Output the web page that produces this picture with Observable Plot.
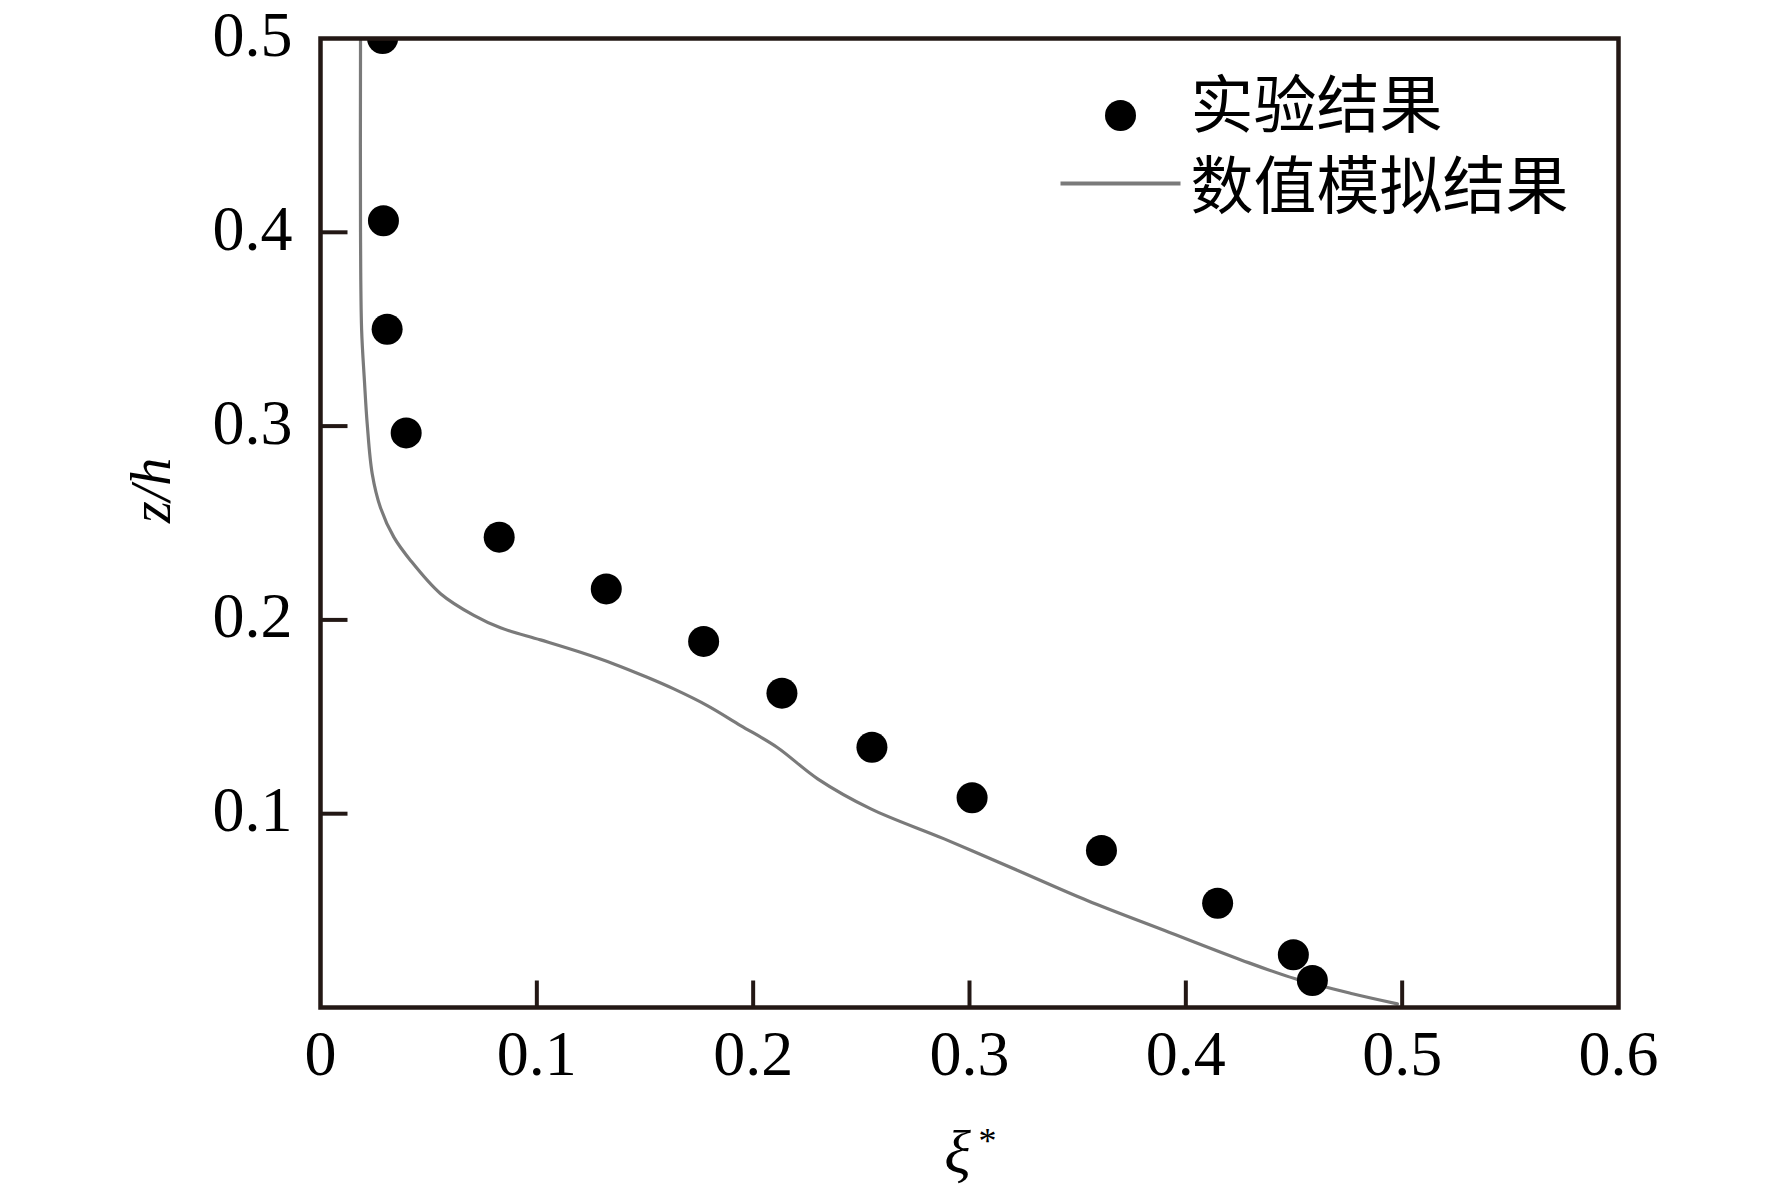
<!DOCTYPE html>
<html>
<head>
<meta charset="utf-8">
<script src="https://cdn.jsdelivr.net/npm/d3@7"></script>
<script src="https://cdn.jsdelivr.net/npm/@observablehq/plot@0.6"></script>
<style>
  html, body { margin: 0; padding: 0; background: #fff; }
  #chart { width: 1772px; height: 1195px; }
</style>
</head>
<body>
<div id="chart"></div>
<script>
// Experimental results (dots)
const expX = [0.0287, 0.0291, 0.0308, 0.0396, 0.0826, 0.1321, 0.1771, 0.2133, 0.2549, 0.3012, 0.3610, 0.4147, 0.4497, 0.4585];
const expY = [0.500, 0.406, 0.350, 0.2965, 0.2427, 0.2160, 0.1889, 0.1622, 0.1343, 0.1082, 0.0810, 0.0538, 0.0272, 0.0139];

// Numerical simulation (line)
const numX = [0.0185, 0.0185, 0.0190, 0.0203, 0.0216, 0.0239, 0.0277, 0.0339, 0.0416, 0.0555, 0.0709, 0.0832, 0.1017, 0.1202, 0.1356, 0.1510, 0.1633, 0.1788, 0.1942, 0.2110, 0.2298, 0.2544, 0.2883, 0.3223, 0.3544, 0.3902, 0.4261, 0.4506, 0.4770, 0.4978];
const numY = [0.500, 0.400, 0.350, 0.3235, 0.301, 0.2754, 0.258, 0.2427, 0.2307, 0.2135, 0.2023, 0.1959, 0.1897, 0.1833, 0.1773, 0.1704, 0.1644, 0.1558, 0.1455, 0.1343, 0.118, 0.1025, 0.087, 0.0707, 0.0552, 0.0397, 0.0243, 0.0148, 0.0071, 0.0019];

// Ticks
const xTickLabels = [0, 0.1, 0.2, 0.3, 0.4, 0.5, 0.6];
const xTickMarks = [0.1, 0.2, 0.3, 0.4, 0.5];
const yTickLabels = [0.1, 0.2, 0.3, 0.4, 0.5];
const yTickMarks = [0.1, 0.2, 0.3, 0.4];

// Text
const legendLabels = ["实验结果", "数值模拟结果"];
const xAxisLabel = "ξ";
const xAxisSup = "*";
const yAxisLabel = "z/h";

const expData = expX.map((x, i) => ({x, y: expY[i]}));
const numData = numX.map((x, i) => ({x, y: numY[i]}));

const frameColor = "#231815";
const lineColor = "#7a7a7a";
const serif = "'Liberation Serif', 'Times New Roman', serif";
const cjk = "'Noto Sans CJK SC', sans-serif";
const fmt = d => String(d);

const tickUp = {draw(ctx) { ctx.moveTo(0, 0); ctx.lineTo(0, -27); }};
const tickRight = {draw(ctx) { ctx.moveTo(0, 0); ctx.lineTo(27, 0); }};
const legendLine = {draw(ctx) { ctx.moveTo(-60, 0); ctx.lineTo(60, 0); }};

const chart = Plot.plot({
  width: 1772,
  height: 1195,
  marginLeft: 320,
  marginRight: 154,
  marginTop: 38,
  marginBottom: 188,
  style: {fontFamily: serif, fontSize: "64px", color: "#000", background: "#fff"},
  x: {domain: [0, 0.6]},
  y: {domain: [0, 0.5]},
  marks: [
    Plot.line(numData, {x: "x", y: "y", stroke: lineColor, strokeWidth: 3.2, curve: "catmull-rom", clip: true}),
    Plot.dot(expData, {x: "x", y: "y", r: 15.5, fill: "#000", clip: true}),
    Plot.dot(xTickMarks, {x: d => d, y: d => 0, symbol: tickUp, fill: "none", stroke: frameColor, strokeWidth: 4}),
    Plot.dot(yTickMarks, {x: d => 0, y: d => d, symbol: tickRight, fill: "none", stroke: frameColor, strokeWidth: 4}),
    Plot.axisX({ticks: xTickLabels, tickFormat: fmt, tickSize: 0, tickPadding: 22, label: null, fontSize: 64, fontFamily: serif}),
    Plot.axisY({ticks: yTickLabels, tickFormat: fmt, tickSize: 0, tickPadding: 28, dy: -3, label: null, fontSize: 64, fontFamily: serif}),
    Plot.frame({stroke: frameColor, strokeWidth: 4.5}),
    // axis titles
    Plot.text([xAxisLabel], {frameAnchor: "bottom", lineAnchor: "bottom", dx: -12, dy: 165, fontSize: 62, fontStyle: "italic", fontFamily: serif}),
    Plot.text([xAxisSup], {frameAnchor: "bottom", lineAnchor: "bottom", dx: 18, dy: 145, fontSize: 36, fontFamily: serif}),
    Plot.text([yAxisLabel], {frameAnchor: "left", lineAnchor: "middle", rotate: -90, dx: -168, fontSize: 56, fontStyle: "italic", fontFamily: serif}),
    // legend
    Plot.dot([legendLabels[0]], {frameAnchor: "top-left", dx: 800, dy: 77, r: 15.5, fill: "#000"}),
    Plot.dot([legendLabels[1]], {frameAnchor: "top-left", dx: 800, dy: 145, symbol: legendLine, fill: "none", stroke: lineColor, strokeWidth: 4}),
    Plot.text([legendLabels[0]], {frameAnchor: "top-left", textAnchor: "start", lineAnchor: "middle", dx: 870, dy: 68, fontSize: 63, fontFamily: cjk}),
    Plot.text([legendLabels[1]], {frameAnchor: "top-left", textAnchor: "start", lineAnchor: "middle", dx: 870, dy: 149, fontSize: 63, fontFamily: cjk})
  ]
});
document.getElementById("chart").appendChild(chart);
</script>
</body>
</html>
